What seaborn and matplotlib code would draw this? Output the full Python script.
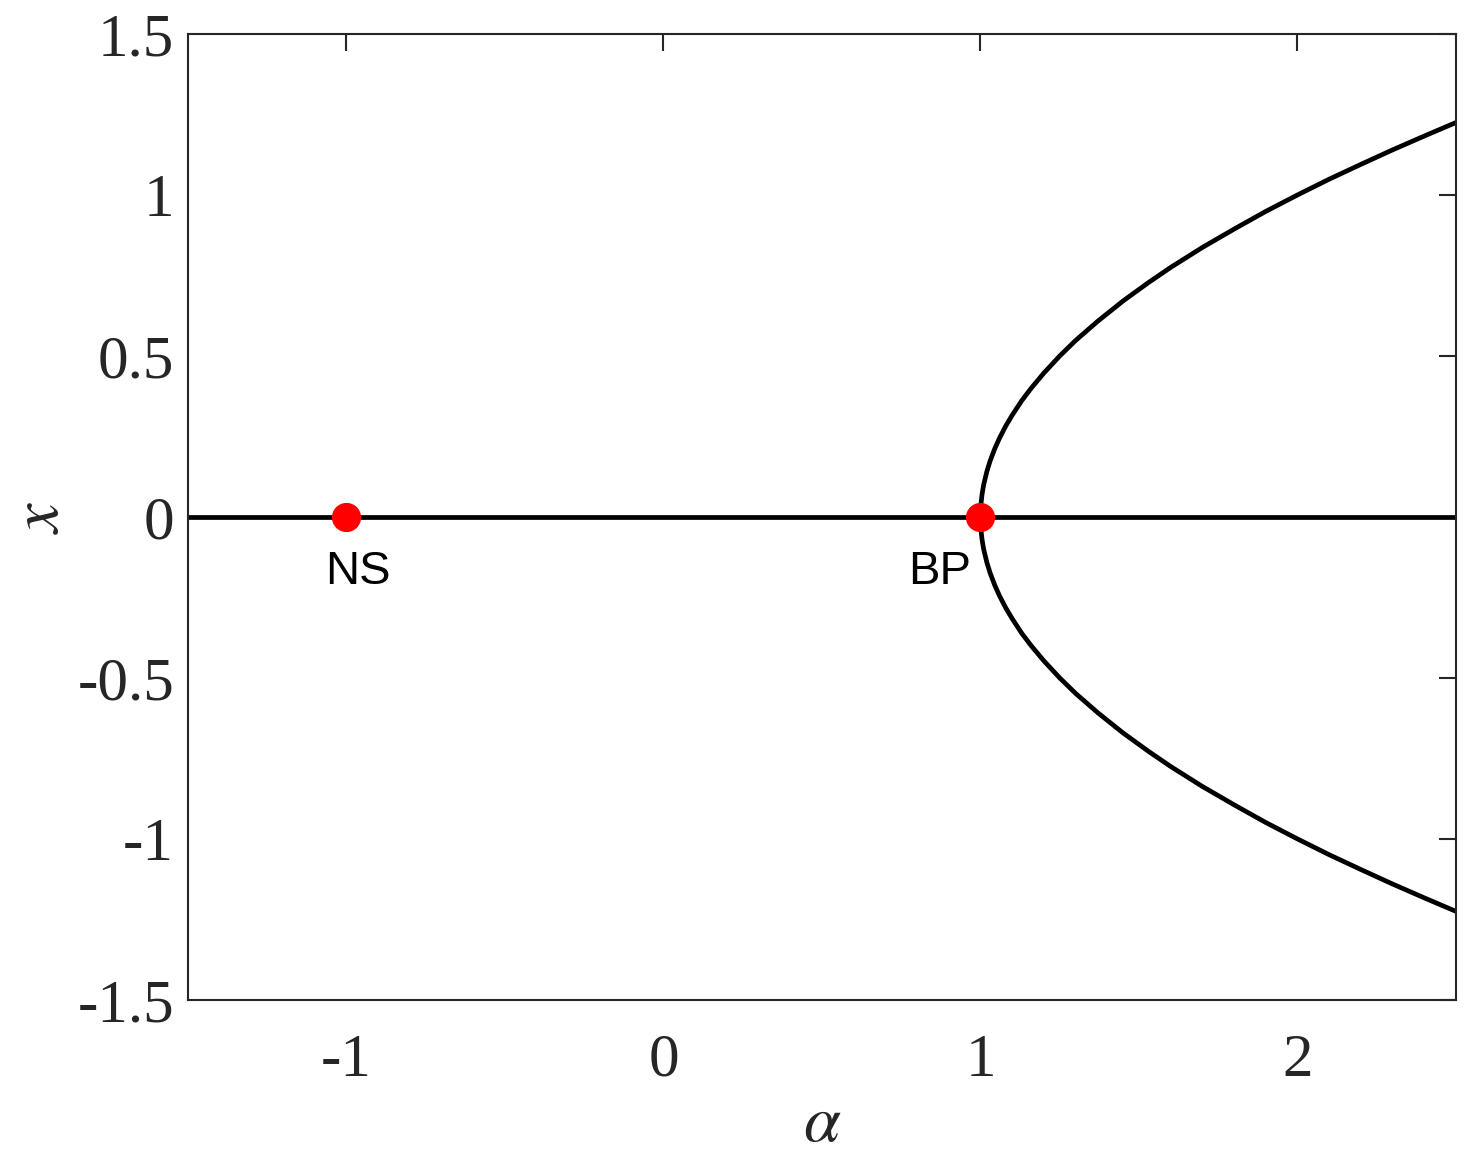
import matplotlib
matplotlib.use("Agg")
import matplotlib.pyplot as plt
import seaborn as sns

# trivial equilibrium branch
alpha_trivial = [-1.5, 2.5]
x_trivial = [0.0, 0.0]

# pitchfork branches
alpha_branch = [1.0, 1.002, 1.005, 1.01, 1.02, 1.03, 1.045, 1.06, 1.08, 1.1, 1.13, 1.16, 1.2, 1.25,
                1.3, 1.37, 1.45, 1.53, 1.6, 1.7, 1.8, 1.9, 2.0, 2.1, 2.2, 2.3, 2.4, 2.5]
x_upper = [0.0, 0.045, 0.071, 0.10, 0.141, 0.173, 0.212, 0.245, 0.283, 0.316, 0.361, 0.40, 0.447, 0.50,
           0.548, 0.608, 0.671, 0.728, 0.775, 0.837, 0.894, 0.949, 1.0, 1.049, 1.095, 1.14, 1.183, 1.225]
x_lower = [0.0, -0.045, -0.071, -0.10, -0.141, -0.173, -0.212, -0.245, -0.283, -0.316, -0.361, -0.40, -0.447, -0.50,
           -0.548, -0.608, -0.671, -0.728, -0.775, -0.837, -0.894, -0.949, -1.0, -1.049, -1.095, -1.14, -1.183, -1.225]

# special points
point_alpha = [-1.0, 1.0]
point_x = [0.0, 0.0]
point_labels = ["NS", "BP"]
label_alpha = [-0.965, 0.87]
label_x = [-0.17, -0.17]

xticks = [-1, 0, 1, 2]
yticks = [-1.5, -1, -0.5, 0, 0.5, 1, 1.5]
ytick_labels = ["-1.5", "-1", "-0.5", "0", "0.5", "1", "1.5"]

sns.set_style("white")
plt.rcParams["font.family"] = ["Liberation Serif", "DejaVu Serif"]
plt.rcParams["mathtext.fontset"] = "stix"

fig = plt.figure(figsize=(14.71, 11.63), dpi=100)
ax = fig.add_axes([0.1278, 0.1402, 0.8620, 0.8306])

line_kw = dict(color="black", linewidth=3.4, estimator=None, sort=False, legend=False, ax=ax)
sns.lineplot(x=alpha_trivial, y=x_trivial, **line_kw)
sns.lineplot(x=alpha_branch, y=x_upper, **line_kw)
sns.lineplot(x=alpha_branch, y=x_lower, **line_kw)

ax.plot(point_alpha, point_x, linestyle="none", marker="o", markersize=20,
        markerfacecolor="red", markeredgecolor="red", zorder=5)
for lab, a, v in zip(point_labels, label_alpha, label_x):
    ax.text(a, v, lab, ha="center", va="center", fontsize=34,
            family=["Liberation Sans", "DejaVu Sans"], color="black")

ax.set_xlim(-1.5, 2.5)
ax.set_ylim(-1.5, 1.5)
ax.set_xticks(xticks)
ax.set_xticklabels([str(t) for t in xticks])
ax.set_yticks(yticks)
ax.set_yticklabels(ytick_labels)

ax.tick_params(axis="both", direction="in", length=12, width=1.5, colors="#262626",
               labelsize=44, top=True, right=True)
ax.tick_params(axis="x", pad=24)
ax.tick_params(axis="y", pad=10)
for s in ax.spines.values():
    s.set_color("#262626")
    s.set_linewidth(1.5)

ax.set_xlabel(r"$\alpha$", fontsize=48, color="#262626", labelpad=4)
ax.set_ylabel(r"$x$", fontsize=48, color="#262626", labelpad=4)

fig.savefig("out.png", dpi=100)
